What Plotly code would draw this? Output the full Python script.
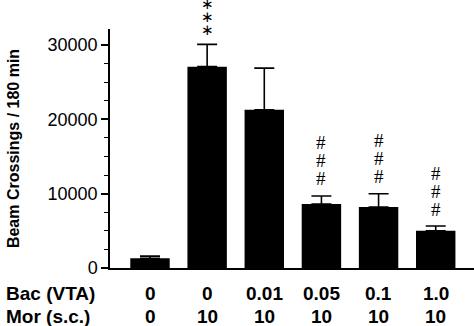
import plotly.graph_objects as go

bac = ["0", "0", "0.01", "0.05", "0.1", "1.0"]
mor = ["0", "10", "10", "10", "10", "10"]
means = [1300, 27100, 21300, 8600, 8200, 5000]
sems = [300, 3000, 5600, 1100, 1800, 650]
marks = ["", "∗", "", "#", "#", "#"]
mark_counts = [0, 3, 0, 3, 3, 3]
y_ticks = [0, 10000, 20000, 30000]

x = list(range(len(means)))

fig = go.Figure()
fig.add_trace(go.Bar(
    x=x, y=means, width=0.69,
    marker=dict(color="black", line=dict(width=0)),
    error_y=dict(type="data", symmetric=False, array=sems,
                 arrayminus=[0] * len(sems), color="black",
                 thickness=1.6, width=10),
    showlegend=False,
))

ann = []
for i, (m, c) in enumerate(zip(marks, mark_counts)):
    if not m:
        continue
    star = m != "#"
    step = 13 if star else 18
    first = 14 if star else 17
    for k in range(c):
        ann.append(dict(x=i, y=means[i] + sems[i], xref="x", yref="y",
                        text=m, showarrow=False, yanchor="middle",
                        yshift=first + k * step, height=12 if star else 17,
                        font=dict(family="DejaVu Sans" if star else "Liberation Serif",
                                  size=15 if star else 19, color="black")))

row_y = [-0.105, -0.205]
row_labels = ["Bac (VTA)", "Mor (s.c.)"]
for r, (lab, vals) in enumerate(zip(row_labels, [bac, mor])):
    ann.append(dict(x=-0.29, y=row_y[r], xref="paper", yref="paper",
                    text="<b>" + lab + "</b>", showarrow=False,
                    xanchor="left", yanchor="middle",
                    font=dict(family="Liberation Sans", size=19, color="black")))
    for i, v in enumerate(vals):
        ann.append(dict(x=i, y=row_y[r], xref="x", yref="paper",
                        text="<b>" + v + "</b>", showarrow=False,
                        xanchor="center", yanchor="middle",
                        font=dict(family="Liberation Sans", size=19, color="black")))

fig.update_layout(
    width=474, height=326,
    margin=dict(l=110, r=0, t=29, b=58),
    paper_bgcolor="white", plot_bgcolor="white",
    annotations=ann,
    xaxis=dict(range=[-0.7, 5.67], showticklabels=False, ticks="",
               showline=True, linecolor="black", linewidth=2,
               showgrid=False, zeroline=False, fixedrange=True),
    yaxis=dict(range=[0, 32170], tickvals=y_ticks,
               ticktext=[str(v) for v in y_ticks],
               ticks="outside", ticklen=7, tickwidth=1.5, tickcolor="black",
               minor=dict(dtick=2500, ticks="outside", ticklen=4,
                          tickwidth=1.2, tickcolor="black"),
               showline=True, linecolor="black", linewidth=1.5,
               showgrid=False, zeroline=False,
               tickfont=dict(family="Liberation Sans", size=18, color="black"),
               title=dict(text="<b>Beam Crossings / 180 min</b>", standoff=24,
                          font=dict(family="Liberation Sans", size=16, color="black"))),
)

fig.write_html("out.html")
